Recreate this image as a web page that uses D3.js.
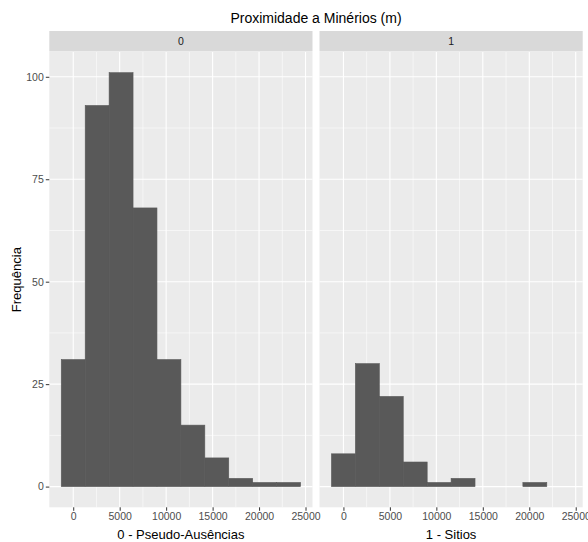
<!DOCTYPE html>
<html>
<head>
<meta charset="utf-8">
<script src="https://cdn.jsdelivr.net/npm/d3@7"></script>
<style>
  body { margin: 0; background: #fff; }
  svg { font-family: "Liberation Sans", Arial, sans-serif; }
</style>
</head>
<body>
<div id="chart"></div>
<script>
// histogram bins (edges, bin width ~2575)
const binEdges = [-1287.5, 1287.5, 3862.5, 6437.5, 9012.5, 11587.5, 14162.5, 16737.5, 19312.5, 21887.5, 24462.5];
const facets = ['0', '1'];
const countsAbsence = [31, 93, 101, 68, 31, 15, 7, 2, 1, 1];
const countsSites = [8, 30, 22, 6, 1, 2, 0, 0, 1, 0];
const xLabels = ['0 - Pseudo-Ausências', '1 - Sitios'];
const xTicks = [0, 5000, 10000, 15000, 20000, 25000];
const xMinor = [2500, 7500, 12500, 17500, 22500];
const yTicks = [0, 25, 50, 75, 100];
const yMinor = [12.5, 37.5, 62.5, 87.5];
const title = 'Proximidade a Minérios (m)';
const yTitle = 'Frequência';

const W = 588, H = 542;
const panelTop = 52, panelBottom = 507.3;
const stripTop = 31;
const panels = [{x0: 49.3, x1: 312.5}, {x0: 319.5, x1: 582.7}];
const allCounts = [countsAbsence, countsSites];

const svg = d3.select('#chart').append('svg')
    .attr('width', W).attr('height', H);

// ggplot-like expansion (5%)
const xLo = binEdges[0], xHi = binEdges[binEdges.length - 1];
const xPad = (xHi - xLo) * 0.05;
const yMax = d3.max(allCounts.flat());
const yPad = yMax * 0.05;

const y = d3.scaleLinear()
    .domain([-yPad, yMax + yPad])
    .range([panelBottom, panelTop]);

panels.forEach((p, i) => {
    const x = d3.scaleLinear()
        .domain([xLo - xPad, xHi + xPad])
        .range([p.x0, p.x1]);

    const g = svg.append('g');

    // panel background
    g.append('rect')
        .attr('x', p.x0).attr('y', panelTop)
        .attr('width', p.x1 - p.x0).attr('height', panelBottom - panelTop)
        .attr('fill', '#EBEBEB');

    // minor grid
    g.selectAll('.xminor').data(xMinor).join('line')
        .attr('x1', d => x(d)).attr('x2', d => x(d))
        .attr('y1', panelTop).attr('y2', panelBottom)
        .attr('stroke', '#fff').attr('stroke-width', 0.55);
    g.selectAll('.yminor').data(yMinor).join('line')
        .attr('x1', p.x0).attr('x2', p.x1)
        .attr('y1', d => y(d)).attr('y2', d => y(d))
        .attr('stroke', '#fff').attr('stroke-width', 0.55);

    // major grid
    g.selectAll('.xmajor').data(xTicks).join('line')
        .attr('x1', d => x(d)).attr('x2', d => x(d))
        .attr('y1', panelTop).attr('y2', panelBottom)
        .attr('stroke', '#fff').attr('stroke-width', 1.1);
    g.selectAll('.ymajor').data(yTicks).join('line')
        .attr('x1', p.x0).attr('x2', p.x1)
        .attr('y1', d => y(d)).attr('y2', d => y(d))
        .attr('stroke', '#fff').attr('stroke-width', 1.1);

    // bars
    const bins = allCounts[i].map((c, k) => ({x0: binEdges[k], x1: binEdges[k + 1], n: c}))
        .filter(b => b.n > 0);
    g.selectAll('.bar').data(bins).join('rect')
        .attr('x', d => x(d.x0))
        .attr('width', d => x(d.x1) - x(d.x0))
        .attr('y', d => y(d.n))
        .attr('height', d => y(0) - y(d.n))
        .attr('fill', '#595959')
        .attr('stroke', '#595959').attr('stroke-width', 0.6);

    // strip
    g.append('rect')
        .attr('x', p.x0).attr('y', stripTop)
        .attr('width', p.x1 - p.x0).attr('height', panelTop - stripTop - 0.5)
        .attr('fill', '#D9D9D9');
    g.append('text')
        .attr('x', (p.x0 + p.x1) / 2).attr('y', (stripTop + panelTop) / 2)
        .attr('dy', '0.35em')
        .attr('text-anchor', 'middle')
        .attr('font-size', 10.5).attr('fill', '#1A1A1A')
        .text(facets[i]);

    // x axis
    const xAxis = d3.axisBottom(x).tickValues(xTicks).tickSize(3.5).tickPadding(2).tickFormat(d3.format('d'));
    const ax = g.append('g')
        .attr('transform', `translate(0,${panelBottom})`)
        .call(xAxis);
    ax.select('.domain').remove();
    ax.selectAll('line').attr('stroke', '#333333');
    ax.selectAll('text').attr('fill', '#4D4D4D').attr('font-size', 10.5)
        .attr('font-family', '"Liberation Sans", Arial, sans-serif');

    g.append('text')
        .attr('x', (p.x0 + p.x1) / 2).attr('y', 539)
        .attr('text-anchor', 'middle')
        .attr('font-size', 13).attr('fill', '#000')
        .text(xLabels[i]);
});

// y axis (left panel only)
const yAxis = d3.axisLeft(y).tickValues(yTicks).tickSize(3.5).tickPadding(2);
const ay = svg.append('g')
    .attr('transform', `translate(${panels[0].x0},0)`)
    .call(yAxis);
ay.select('.domain').remove();
ay.selectAll('line').attr('stroke', '#333333');
ay.selectAll('text').attr('fill', '#4D4D4D').attr('font-size', 10.5)
    .attr('font-family', '"Liberation Sans", Arial, sans-serif');

svg.append('text')
    .attr('transform', `translate(21,${(panelTop + panelBottom) / 2}) rotate(-90)`)
    .attr('text-anchor', 'middle')
    .attr('font-size', 13).attr('fill', '#000')
    .text(yTitle);

svg.append('text')
    .attr('x', (panels[0].x0 + panels[1].x1) / 2).attr('y', 23)
    .attr('text-anchor', 'middle')
    .attr('font-size', 14).attr('fill', '#000')
    .text(title);
</script>
</body>
</html>
